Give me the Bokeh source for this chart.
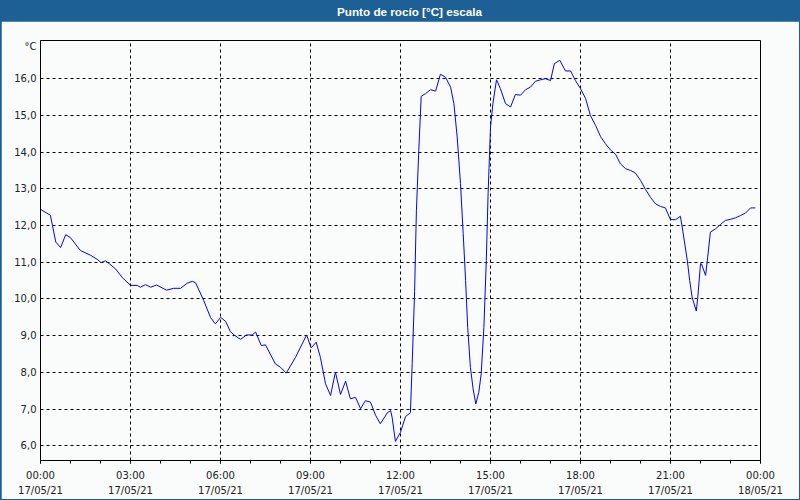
from bokeh.plotting import figure
from bokeh.models import FixedTicker, Label
from bokeh.layouts import column
from bokeh.embed import file_html
from bokeh.resources import INLINE

title_text = "Punto de rocío [°C] escala"
unit_text = "°C"

hours = [0.0, 0.33, 0.51, 0.67, 0.84, 1.0, 1.33, 1.67, 1.89, 2.02, 2.17, 2.5, 2.72,
         3.0, 3.22, 3.33, 3.5, 3.67, 3.87, 4.2, 4.44, 4.67, 4.89, 5.06, 5.17, 5.44,
         5.67, 5.83, 6.0, 6.17, 6.33, 6.5, 6.67, 6.87, 7.06, 7.17, 7.36, 7.5, 7.83,
         8.0, 8.19, 8.5, 8.87, 9.02, 9.19, 9.33, 9.5, 9.67, 9.83, 10.0, 10.17, 10.33,
         10.5, 10.67, 10.83, 11.0, 11.17, 11.33, 11.56, 11.67, 11.72, 11.83, 12.0,
         12.17, 12.33, 12.39, 12.47, 12.53, 12.61, 12.69, 12.83, 13.0, 13.17, 13.33,
         13.5, 13.67, 13.78, 13.89, 14.0, 14.09, 14.17, 14.24, 14.33, 14.42, 14.51,
         14.61, 14.69, 14.78, 14.86, 14.92, 15.0, 15.08, 15.2, 15.33, 15.5, 15.67,
         15.83, 16.0, 16.17, 16.33, 16.5, 16.67, 16.83, 17.0, 17.13, 17.31, 17.5,
         17.67, 17.83, 18.0, 18.17, 18.33, 18.5, 18.67, 18.83, 19.0, 19.17, 19.33,
         19.5, 19.67, 19.83, 20.0, 20.17, 20.33, 20.5, 20.67, 20.83, 21.0, 21.17,
         21.33, 21.39, 21.56, 21.64, 21.72, 21.86, 21.91, 22.0, 22.03, 22.17, 22.24,
         22.33, 22.5, 22.67, 22.83, 23.0, 23.17, 23.33, 23.5, 23.67, 23.83]

dew_point = [12.44, 12.28, 11.55, 11.40, 11.75, 11.67, 11.32, 11.19, 11.08, 10.99, 11.04,
             10.82, 10.59, 10.37, 10.37, 10.32, 10.39, 10.32, 10.38, 10.24, 10.29, 10.29,
             10.43, 10.48, 10.44, 9.96, 9.49, 9.32, 9.50, 9.39, 9.11, 8.99, 8.90, 9.02,
             9.02, 9.10, 8.73, 8.75, 8.23, 8.14, 7.98, 8.41, 9.02, 8.67, 8.82, 8.41, 7.69,
             7.37, 8.01, 7.40, 7.76, 7.28, 7.32, 7.01, 7.23, 7.19, 6.83, 6.60, 6.90, 6.96,
             6.78, 6.12, 6.37, 6.80, 6.90, 8.25, 10.2, 12.4, 14.05, 15.52, 15.59, 15.70,
             15.66, 16.12, 16.04, 15.77, 15.32, 14.41, 13.14, 11.78, 10.50, 9.23, 8.14,
             7.55, 7.14, 7.46, 7.96, 9.23, 11.05, 12.87, 14.68, 15.32, 15.97, 15.73, 15.32,
             15.23, 15.57, 15.55, 15.70, 15.77, 15.93, 15.97, 16.0, 15.95, 16.41, 16.50,
             16.21, 16.21, 15.95, 15.73, 15.46, 15.0, 14.73, 14.42, 14.23, 14.06, 13.94,
             13.68, 13.55, 13.50, 13.43, 13.23, 12.98, 12.77, 12.59, 12.52, 12.48, 12.16,
             12.16, 12.25, 11.96, 11.05, 10.50, 10.05, 9.67, 10.05, 10.96, 10.96, 10.64,
             11.14, 11.82, 11.91, 12.03, 12.14, 12.17, 12.21, 12.27, 12.34, 12.48, 12.48]

x_ticks = [0, 3, 6, 9, 12, 15, 18, 21, 24]
x_tick_labels = ["00:00\n17/05/21", "03:00\n17/05/21", "06:00\n17/05/21",
                 "09:00\n17/05/21", "12:00\n17/05/21", "15:00\n17/05/21",
                 "18:00\n17/05/21", "21:00\n17/05/21", "00:00\n18/05/21"]
y_ticks = [6, 7, 8, 9, 10, 11, 12, 13, 14, 15, 16]
y_tick_labels = ["6,0", "7,0", "8,0", "9,0", "10,0", "11,0", "12,0", "13,0",
                 "14,0", "15,0", "16,0"]
unit_pos = 16.87

BAND = "#1d6096"
BG = "#fafcfc"
FONT = "DejaVu Sans"

# title band
tb = figure(width=800, height=21, x_range=(0, 800), y_range=(0, 21),
            toolbar_location=None, output_backend="svg",
            min_border=0, min_border_left=0, min_border_right=0,
            min_border_top=0, min_border_bottom=0)
tb.axis.visible = False
tb.grid.visible = False
tb.outline_line_color = None
tb.background_fill_color = BAND
tb.border_fill_color = BAND
tb.add_layout(Label(x=410, y=10.5, text=title_text, text_color="white",
                    text_font="Liberation Sans", text_font_style="bold",
                    text_font_size="11.7px", text_align="center",
                    text_baseline="middle"))

# main chart
p = figure(width=798, height=478, x_range=(0, 24), y_range=(5.6, 17.04),
           toolbar_location=None, output_backend="svg",
           min_border_left=39, min_border_right=39, min_border_top=19,
           min_border_bottom=39, margin=(0, 1, 1, 1))
p.background_fill_color = BG
p.border_fill_color = BG
p.outline_line_color = "black"
p.outline_line_width = 1

p.line(hours, dew_point, line_color="#0000ff", line_width=1)

p.xaxis.ticker = FixedTicker(ticks=x_ticks, minor_ticks=list(range(25)))
p.xaxis.major_label_overrides = {t: l for t, l in zip(x_ticks, x_tick_labels)}
# the unit label sits in the y-axis label column, without a grid line
p.yaxis.ticker = FixedTicker(ticks=y_ticks + [unit_pos])
overrides = {t: l for t, l in zip(y_ticks, y_tick_labels)}
overrides[unit_pos] = unit_text
p.yaxis.major_label_overrides = overrides

for ax in (p.xaxis[0], p.yaxis[0]):
    ax.axis_line_color = "black"
    ax.major_label_text_font = FONT
    ax.major_label_text_font_size = "10px"
    ax.major_label_text_color = "#222222"

p.xaxis.major_tick_in = 0
p.xaxis.major_tick_out = 3
p.xaxis.minor_tick_in = 0
p.xaxis.minor_tick_out = 3
p.xaxis.major_tick_line_color = "black"
p.xaxis.minor_tick_line_color = "black"
p.xaxis.major_label_standoff = 6
p.xaxis.major_label_text_line_height = 1.4

p.yaxis.major_tick_in = 0
p.yaxis.major_tick_out = 0
p.yaxis.minor_tick_line_color = None
p.yaxis.major_label_standoff = 4

p.xgrid.ticker = FixedTicker(ticks=x_ticks)
p.ygrid.ticker = FixedTicker(ticks=y_ticks)
p.xgrid.grid_line_color = "black"
p.xgrid.grid_line_dash = "3 3"
p.ygrid.grid_line_color = "black"
p.ygrid.grid_line_dash = "3 3"

layout = column(tb, p, styles={"background-color": BAND}, spacing=0)

open("out.html", "w").write(file_html(layout, INLINE))
